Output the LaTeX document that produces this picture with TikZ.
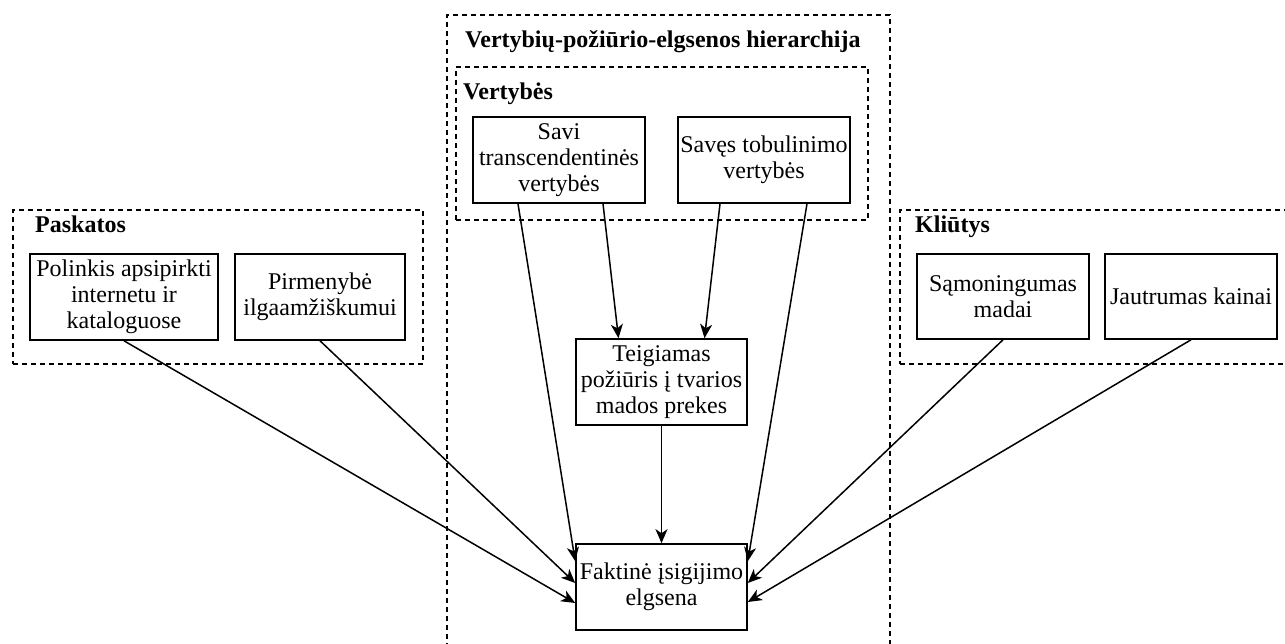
\documentclass[tikz,border=0pt]{standalone}
\usepackage{fontspec}
\setmainfont{Liberation Serif}
\usepackage{tikz}
\usetikzlibrary{positioning, arrows.meta}
\tikzset{
  factorbox/.style={draw, line width=1.6pt, align=center, inner sep=1pt,
    font=\fontsize{24}{26}\selectfont},
  groupbox/.style={draw, line width=1.4pt, dash pattern=on 5pt off 4pt, inner sep=0pt},
  grouptitle/.style={anchor=base west, inner sep=0pt, font=\fontsize{24}{26}\selectfont\bfseries},
  link/.style={line width=1.5pt, -{Stealth[length=14pt, width=12pt, inset=4pt]}}
}
\begin{document}
\begin{tikzpicture}[x=1pt, y=-1pt]
  \useasboundingbox (0,0) rectangle (1285,644);
  \clip (0,0) rectangle (1285,644);
  \node[groupbox, minimum width=443pt, minimum height=700pt] (hier) at (668.5,365) {};
  \node[groupbox, minimum width=412pt, minimum height=153pt] (vert) at (662,143.5) {};
  \node[groupbox, minimum width=410pt, minimum height=154pt] (pask) at (218,287) {};
  \node[groupbox, minimum width=410pt, minimum height=154pt] (kliu) at (1105,287) {};
  \node[grouptitle] (hiertitle) at (465,48) {Vertybių-požiūrio-elgsenos hierarchija};
  \node[grouptitle] (verttitle) at (463,100) {Vertybės};
  \node[grouptitle] (pasktitle) at (35,233) {Paskatos};
  \node[grouptitle] (kliutitle) at (915,233) {Kliūtys};
  \node[factorbox, minimum width=188pt, minimum height=86pt] (polinkis) at (124,297)
    {Polinkis apsipirkti\\internetu ir\\kataloguose};
  \node[factorbox, minimum width=170pt, minimum height=86pt] (pirmenybe) at (320,297)
    {Pirmenybė\\ilgaamžiškumui};
  \node[factorbox, minimum width=172pt, minimum height=86pt] (savi) at (559,160)
    {Savi\\transcendentinės\\vertybės};
  \node[factorbox, minimum width=172pt, minimum height=86pt] (saves) at (764,160)
    {Savęs tobulinimo\\vertybės};
  \node[factorbox, minimum width=172pt, minimum height=85pt] (samon) at (1003,296.5)
    {Sąmoningumas\\madai};
  \node[factorbox, minimum width=172pt, minimum height=85pt] (jautr) at (1191,296.5)
    {Jautrumas kainai};
  \node[factorbox, minimum width=171pt, minimum height=86pt] (teig) at (661.5,382)
    {Teigiamas\\požiūris į tvarios\\mados prekes};
  \node[factorbox, minimum width=171pt, minimum height=86pt] (fakt) at (661.5,587)
    {Faktinė įsigijimo\\elgsena};
  \draw[link] ([xshift=-41pt]savi.south) -- ([yshift=-18pt]fakt.north west);
  \draw[link] ([xshift=44pt]savi.south) -- ([xshift=-43pt]teig.north);
  \draw[link] ([xshift=-44pt]saves.south) -- ([xshift=43pt]teig.north);
  \draw[link] ([xshift=43pt]saves.south) -- ([yshift=-18pt]fakt.north east);
  \draw[link] (teig.south) -- (fakt.north);
  \draw[link] (polinkis.south) -- ([yshift=-16pt]fakt.west);
  \draw[link] (pirmenybe.south) -- ([yshift=4pt]fakt.west);
  \draw[link] (samon.south) -- ([yshift=4pt]fakt.east);
  \draw[link] (jautr.south) -- ([yshift=-15pt]fakt.east);
\end{tikzpicture}
\end{document}
